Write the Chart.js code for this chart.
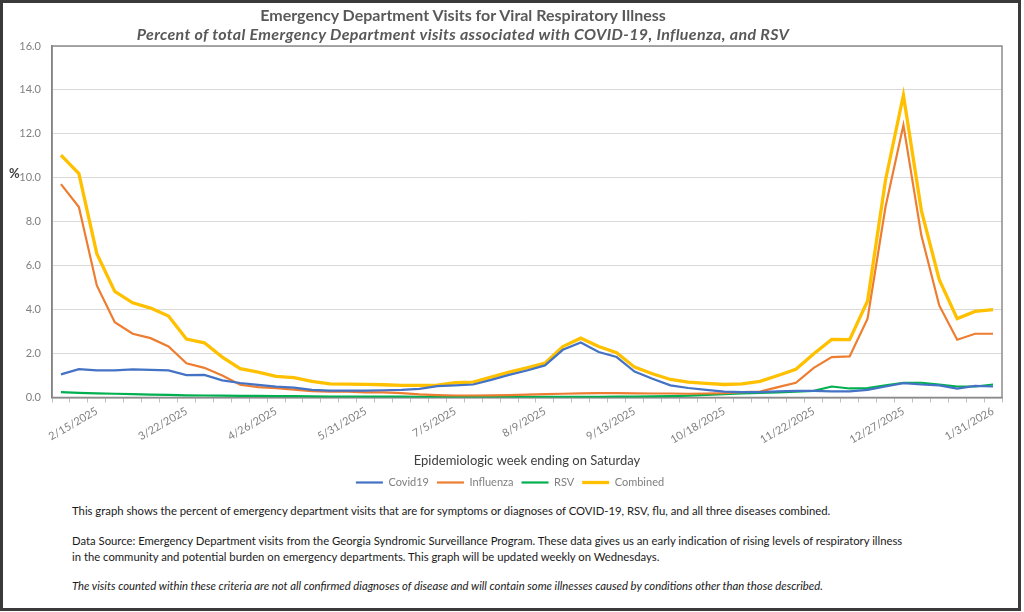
<!DOCTYPE html>
<html>
<head>
<meta charset="utf-8">
<script src="https://cdn.jsdelivr.net/npm/chart.js@4/dist/chart.umd.min.js"></script>
<style>
  body { margin: 0; background: #fff; font-family: Lato, "Open Sans", sans-serif; }
  #page { position: relative; width: 1024px; height: 612px; overflow: hidden; background: #fff; }
  #frame { position: absolute; left: 0; top: 0; width: 1021px; height: 611px; box-sizing: border-box; border: 3px solid #3a3a3a; pointer-events: none; }
  #chartBox { position: absolute; left: 0; top: 0; width: 1024px; height: 498px; }
  .title { position: absolute; left: 0; width: 926px; text-align: center; color: #595959; font-weight: bold; font-size: 16px; line-height: 18px; white-space: nowrap; }
  #t1 { top: 6px; }
  #t2 { top: 25px; font-style: italic; letter-spacing: 0.35px; }
  #pct { position: absolute; left: 9px; top: 165px; font-size: 13px; font-weight: bold; color: #404040; }
  .note { position: absolute; left: 72px; font-size: 11.3px; line-height: 16px; color: #1a1a1a; white-space: nowrap; }
</style>
</head>
<body>
<div id="page">
  <div id="chartBox"><canvas id="myChart"></canvas></div>
  <div class="title" id="t1">Emergency Department Visits for Viral Respiratory Illness</div>
  <div class="title" id="t2">Percent of total Emergency Department visits associated with COVID-19, Influenza, and RSV</div>
  <div id="pct">%</div>
  <div class="note" style="top:503px">This graph shows the percent of emergency department visits that are for symptoms or diagnoses of COVID-19, RSV, flu, and all three diseases combined.</div>
  <div class="note" style="top:533px">Data Source: Emergency Department visits from the Georgia Syndromic Surveillance Program. These data gives us an early indication of rising levels of respiratory illness<br>in the community and potential burden on emergency departments. This graph will be updated weekly on Wednesdays.</div>
  <div class="note" style="top:578px;font-style:italic">The visits counted within these criteria are not all confirmed diagnoses of disease and will contain some illnesses caused by conditions other than those described.</div>
  <div id="frame"></div>
</div>
<script>
// epidemiologic weeks ending on Saturday
const weeks = [
  '2/1/2025','2/8/2025','2/15/2025','2/22/2025','3/1/2025','3/8/2025','3/15/2025','3/22/2025','3/29/2025',
  '4/5/2025','4/12/2025','4/19/2025','4/26/2025','5/3/2025','5/10/2025','5/17/2025','5/24/2025','5/31/2025',
  '6/7/2025','6/14/2025','6/21/2025','6/28/2025','7/5/2025','7/12/2025','7/19/2025','7/26/2025',
  '8/2/2025','8/9/2025','8/16/2025','8/23/2025','8/30/2025','9/6/2025','9/13/2025','9/20/2025','9/27/2025',
  '10/4/2025','10/11/2025','10/18/2025','10/25/2025','11/1/2025','11/8/2025','11/15/2025','11/22/2025','11/29/2025',
  '12/6/2025','12/13/2025','12/20/2025','12/27/2025','1/3/2026','1/10/2026','1/17/2026','1/24/2026','1/31/2026'
];

const covid19 = [1.05,1.29,1.23,1.23,1.28,1.26,1.23,1.02,1.03,0.78,0.66,0.57,0.49,0.45,0.35,0.31,0.31,0.31,
  0.33,0.35,0.39,0.52,0.55,0.59,0.80,1.03,1.23,1.46,2.17,2.50,2.07,1.84,1.18,0.85,0.55,0.43,0.35,0.27,
  0.24,0.24,0.28,0.30,0.30,0.28,0.28,0.35,0.50,0.65,0.59,0.55,0.40,0.53,0.50];

const influenza = [9.71,8.67,5.10,3.43,2.90,2.70,2.32,1.56,1.35,1.00,0.58,0.47,0.43,0.36,0.29,0.26,0.26,0.23,
  0.23,0.20,0.14,0.11,0.09,0.09,0.10,0.11,0.13,0.15,0.17,0.19,0.20,0.20,0.19,0.18,0.18,0.17,0.18,0.20,
  0.24,0.27,0.47,0.67,1.35,1.84,1.87,3.59,8.67,12.40,7.38,4.19,2.63,2.90,2.90];

const rsv = [0.24,0.21,0.19,0.17,0.15,0.13,0.12,0.10,0.09,0.08,0.07,0.07,0.06,0.06,0.05,0.04,0.04,0.04,
  0.04,0.04,0.03,0.03,0.03,0.03,0.03,0.03,0.03,0.03,0.03,0.03,0.03,0.04,0.04,0.05,0.06,0.08,0.12,0.15,
  0.18,0.21,0.23,0.26,0.30,0.50,0.41,0.43,0.55,0.67,0.67,0.59,0.50,0.50,0.59];

const combined = [11.03,10.19,6.55,4.83,4.31,4.07,3.71,2.66,2.49,1.84,1.31,1.15,0.96,0.90,0.73,0.62,0.61,0.60,
  0.58,0.55,0.55,0.56,0.68,0.70,0.93,1.15,1.35,1.56,2.32,2.70,2.32,2.04,1.38,1.08,0.82,0.70,0.64,0.59,
  0.62,0.73,1.00,1.28,1.99,2.64,2.63,4.39,9.89,13.76,8.52,5.36,3.59,3.92,4.00];

const yTicks = [0, 2, 4, 6, 8, 10, 12, 14, 16];

// box around the plot area, like the spreadsheet chart
const plotFrame = {
  id: 'plotFrame',
  beforeDatasetsDraw(chart) {
    const a = chart.chartArea;
    const ctx = chart.ctx;
    ctx.save();
    ctx.strokeStyle = '#8c8c8c';
    ctx.lineWidth = 1.5;
    ctx.strokeRect(a.left, a.top, a.right - a.left, a.bottom - a.top);
    ctx.restore();
  }
};

function series(label, data, color, width) {
  return {
    label: label,
    data: data,
    borderColor: color,
    backgroundColor: color,
    borderWidth: width,
    pointRadius: 0,
    pointHoverRadius: 0,
    pointStyle: 'line',
    tension: 0,
    fill: false
  };
}

new Chart(document.getElementById('myChart'), {
  type: 'line',
  data: {
    labels: weeks,
    datasets: [
      series('Covid19', covid19, '#4472C4', 2.2),
      series('Influenza', influenza, '#ED7D31', 2.2),
      series('RSV', rsv, '#00B050', 2.2),
      series('Combined', combined, '#FFC000', 3.3)
    ]
  },
  options: {
    responsive: true,
    maintainAspectRatio: false,
    animation: false,
    layout: { padding: { top: 46, left: 18, right: 22, bottom: 0 } },
    plugins: {
      legend: {
        position: 'bottom',
        labels: {
          usePointStyle: true,
          pointStyleWidth: 27,
          boxHeight: 10,
          color: '#7f7f7f',
          font: { family: 'Lato', size: 11 },
          padding: 8
        }
      },
      tooltip: { enabled: false }
    },
    scales: {
      x: {
        offset: true,
        grid: { offset: true, drawOnChartArea: false, color: '#bfbfbf', tickLength: 5 },
        border: { color: '#8c8c8c', width: 1.5 },
        ticks: {
          autoSkip: false,
          maxRotation: 30,
          minRotation: 30,
          padding: 2,
          color: '#808080',
          font: { family: 'Lato', size: 11 },
          callback: function (v, i) { return i % 5 === 2 ? weeks[i] : ''; }
        },
        title: {
          display: true,
          text: 'Epidemiologic week ending on Saturday',
          color: '#404040',
          font: { family: 'Lato', size: 13 },
          padding: { top: 5, bottom: 0 }
        }
      },
      y: {
        min: 0,
        max: 16,
        afterBuildTicks: function (s) { s.ticks = yTicks.map(v => ({ value: v })); },
        afterFit: function (s) { s.width = 34; },
        grid: { color: '#d9d9d9', drawTicks: false },
        border: { color: '#666666', width: 1.5 },
        ticks: {
          padding: 11,
          color: '#808080',
          font: { family: 'Lato', size: 11 },
          callback: function (v) { return v.toFixed(1); }
        }
      }
    }
  },
  plugins: [plotFrame]
});
</script>
</body>
</html>
